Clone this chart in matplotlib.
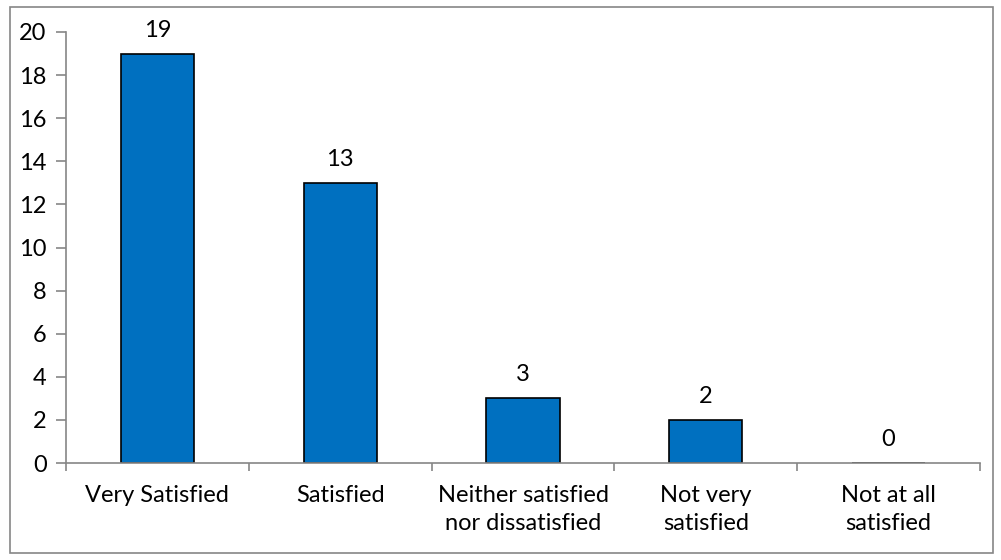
import matplotlib
matplotlib.use('Agg')
import matplotlib.pyplot as plt
from matplotlib.patches import Rectangle
import numpy as np

# data
categories = ['Very Satisfied', 'Satisfied', 'Neither satisfied\nnor dissatisfied',
              'Not very\nsatisfied', 'Not at all\nsatisfied']
counts = [19, 13, 3, 2, 0]

plt.rcParams['font.family'] = ['Lato', 'DejaVu Sans']
fs = 17

fig = plt.figure(figsize=(10.01, 5.6), dpi=100)
ax = fig.add_axes([66/1001, 97/560, 914/1001, 431/560])

x = np.arange(len(counts))
ax.bar(x, counts, width=0.4, color='#0070C0', edgecolor='black', linewidth=1.2, zorder=2)
for xi, v in zip(x, counts):
    ax.text(xi, v + 0.6, str(v), ha='center', va='bottom', fontsize=fs)

ax.set_xlim(-0.5, len(counts) - 0.5)
ax.set_ylim(0, 20)
ax.set_yticks(range(0, 21, 2))
ax.set_xticks(np.arange(-0.5, len(counts), 1.0))
ax.set_xticklabels([])
ax.set_xticks(x, minor=True)
ax.set_xticklabels(categories, minor=True, fontsize=fs, linespacing=1.4)
ax.tick_params(axis='x', which='minor', length=0, pad=16)
ax.tick_params(axis='x', which='major', direction='out', length=6, color='#868686', width=1.2)
ax.tick_params(axis='y', direction='out', length=7, color='#868686', width=1.2, labelsize=fs, pad=7)

for s in ['top', 'right']:
    ax.spines[s].set_visible(False)
for s in ['left', 'bottom']:
    ax.spines[s].set_color('#868686')
    ax.spines[s].set_linewidth(1.2)
    ax.spines[s].set_zorder(3)

# outer chart border
fig.patches.append(Rectangle((10/1001, 7/560), 983/1001, 546/560, transform=fig.transFigure,
                             fill=False, edgecolor='#868686', linewidth=1.2))

fig.savefig('out.png', dpi=100)
